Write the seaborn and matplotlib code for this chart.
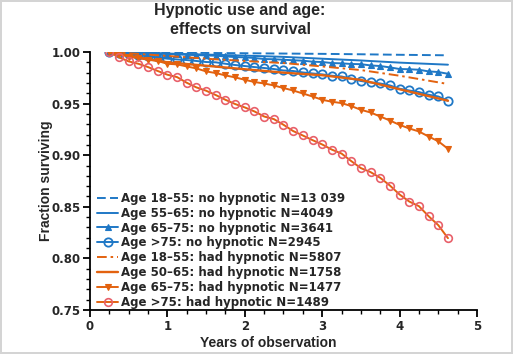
import matplotlib
matplotlib.use("Agg")
import matplotlib.pyplot as plt
import matplotlib.ticker as mticker
import seaborn as sns

# time points (years)
t_fine = [0.25, 0.375, 0.5, 0.625, 0.75, 0.875, 1.0, 1.125, 1.25, 1.375, 1.5, 1.625,
          1.75, 1.875, 2.0, 2.125, 2.25, 2.375, 2.5, 2.625, 2.75, 2.875, 3.0, 3.125,
          3.25, 3.375, 3.5, 3.625, 3.75, 3.875, 4.0, 4.125, 4.25, 4.375, 4.5, 4.625]
t_coarse = [0.25, 0.5, 1.0, 1.5, 2.0, 2.5, 3.0, 3.5, 4.0, 4.625]

labels = [
    "Age 18\u201355: no hypnotic N=13 039",
    "Age 55\u201365: no hypnotic N=4049",
    "Age 65\u201375: no hypnotic N=3641",
    "Age >75: no hypnotic N=2945",
    "Age 18\u201355: had hypnotic N=5807",
    "Age 50\u201365: had hypnotic N=1758",
    "Age 65\u201375: had hypnotic N=1477",
    "Age >75: had hypnotic N=1489",
]

no_18_55 = [1.000, 0.9998, 0.9994, 0.9991, 0.9988, 0.9985, 0.9982, 0.9978, 0.9973, 0.9968]
no_55_65 = [1.000, 0.9996, 0.9985, 0.9975, 0.9965, 0.9953, 0.9935, 0.9918, 0.9897, 0.9877]
no_65_75 = [1.000, 0.9998, 0.9995, 0.9991, 0.9988, 0.9984, 0.9981, 0.9977, 0.9973, 0.9970,
            0.9967, 0.9964, 0.9957, 0.9951, 0.9948, 0.9942, 0.9932, 0.9930, 0.9925, 0.9920,
            0.9916, 0.9906, 0.9903, 0.9893, 0.9890, 0.9884, 0.9882, 0.9870, 0.9864, 0.9851,
            0.9835, 0.9833, 0.9828, 0.9812, 0.9806, 0.9789]
no_75 = [1.000, 0.9990, 0.9981, 0.9974, 0.9957, 0.9948, 0.9935, 0.9928, 0.9922, 0.9913,
         0.9903, 0.9900, 0.9886, 0.9874, 0.9864, 0.9854, 0.9845, 0.9835, 0.9821, 0.9816,
         0.9802, 0.9792, 0.9783, 0.9770, 0.9763, 0.9741, 0.9719, 0.9705, 0.9695, 0.9676,
         0.9644, 0.9627, 0.9612, 0.9586, 0.9569, 0.9528]
had_18_55 = [1.000, 0.9988, 0.9962, 0.9935, 0.9913, 0.9893, 0.9860, 0.9825, 0.9770, 0.9690]
had_50_65 = [1.000, 0.9965, 0.9900, 0.9867, 0.9833, 0.9800, 0.9775, 0.9730, 0.9639, 0.9528]
had_65_75 = [1.000, 0.9979, 0.9954, 0.9940, 0.9925, 0.9913, 0.9886, 0.9880, 0.9860, 0.9841,
             0.9812, 0.9796, 0.9773, 0.9754, 0.9731, 0.9709, 0.9695, 0.9676, 0.9651, 0.9627,
             0.9598, 0.9569, 0.9537, 0.9518, 0.9505, 0.9476, 0.9440, 0.9414, 0.9375, 0.9336,
             0.9294, 0.9259, 0.9230, 0.9181, 0.9135, 0.9062]
had_75 = [1.000, 0.9948, 0.9909, 0.9886, 0.9854, 0.9816, 0.9780, 0.9757, 0.9702, 0.9657,
          0.9625, 0.9583, 0.9537, 0.9496, 0.9463, 0.9424, 0.9375, 0.9350, 0.9295, 0.9234,
          0.9191, 0.9146, 0.9104, 0.9054, 0.9016, 0.8943, 0.8875, 0.8836, 0.8781, 0.8706,
          0.8619, 0.8551, 0.8506, 0.8409, 0.8322, 0.8196]

BLUE = "#1f78c6"
ORANGE = "#e3620f"
RED = "#e8606a"

sns.set_style("ticks")
plt.rcParams["font.family"] = ["DejaVu Sans"]
plt.rcParams["font.weight"] = "bold"
ARIAL = ["Liberation Sans", "DejaVu Sans"]

fig = plt.figure(figsize=(5.13, 3.54), dpi=100)
ax = fig.add_axes([0.1754, 0.1243, 0.7544, 0.7288])

lw = 1.4
series = [
    (t_coarse, no_18_55, dict(color=BLUE, linestyle=(0, (4.5, 2.2)))),
    (t_coarse, no_55_65, dict(color=BLUE, linestyle="-")),
    (t_fine, no_65_75, dict(color=BLUE, marker="^", markersize=5,
                            markerfacecolor=BLUE, markeredgecolor=BLUE, markeredgewidth=0.8)),
    (t_fine, no_75, dict(color=BLUE, marker="o", markersize=6,
                         markerfacecolor="none", markeredgecolor=BLUE, markeredgewidth=1.3)),
    (t_coarse, had_18_55, dict(color=ORANGE, linestyle=(0, (5, 2, 1.3, 2)))),
    (t_coarse, had_50_65, dict(color=ORANGE, linestyle="-", linewidth=1.7)),
    (t_fine, had_65_75, dict(color=ORANGE, marker="v", markersize=5,
                             markerfacecolor=ORANGE, markeredgecolor=ORANGE, markeredgewidth=0.8)),
    (t_fine, had_75, dict(color=ORANGE, marker="o", markersize=5.5,
                          markerfacecolor="none", markeredgecolor=RED, markeredgewidth=1.2)),
]

for (t, y, kw), lab in zip(series, labels):
    kw.setdefault("linewidth", lw)
    sns.lineplot(x=t, y=y, ax=ax, label=lab, **kw)

ax.set_xlim(0, 5)
ax.set_ylim(0.75, 1.0)
ax.xaxis.set_major_locator(mticker.MultipleLocator(1))
ax.xaxis.set_minor_locator(mticker.MultipleLocator(0.25))
ax.yaxis.set_major_locator(mticker.MultipleLocator(0.05))
ax.yaxis.set_minor_locator(mticker.MultipleLocator(0.01))
ax.yaxis.set_major_formatter(mticker.FormatStrFormatter("%.2f"))
ax.tick_params(which="major", length=5, width=1.3, labelsize=8.5, pad=2, color="black")
ax.tick_params(which="minor", length=3, width=1.0, color="black")
for lab in ax.get_xticklabels() + ax.get_yticklabels():
    lab.set_fontweight("bold")
sns.despine(ax=ax)
for s in ("left", "bottom"):
    ax.spines[s].set_linewidth(1.3)
    ax.spines[s].set_color("black")

ax.set_xlabel("")
ax.set_ylabel("")
fig.text(268 / 513, 1 - 343 / 354, "Years of observation", ha="center", va="center",
         fontsize=10, fontweight="bold", family=ARIAL)
fig.text(46 / 513, 1 - 181 / 354, "Fraction surviving", ha="center", va="center",
         rotation=90, fontsize=10, fontweight="bold", family=ARIAL)
fig.text(240 / 513, 1 - 20 / 354, "Hypnotic use and age:\neffects on survival",
         ha="center", va="center", fontsize=11.5, fontweight="bold", linespacing=1.3,
         family=ARIAL)

leg = ax.legend(loc="lower left", bbox_to_anchor=(7 / 387, 1 / 258), frameon=False,
                fontsize=8.5, handlelength=1.8, handletextpad=0.2, labelspacing=0.16,
                borderaxespad=0.0, borderpad=0.0)
for txt in leg.get_texts():
    txt.set_fontweight("bold")

fig.patch.set_edgecolor("#d4d4d4")
fig.patch.set_linewidth(1.5)
fig.savefig("out.png", dpi=100)
